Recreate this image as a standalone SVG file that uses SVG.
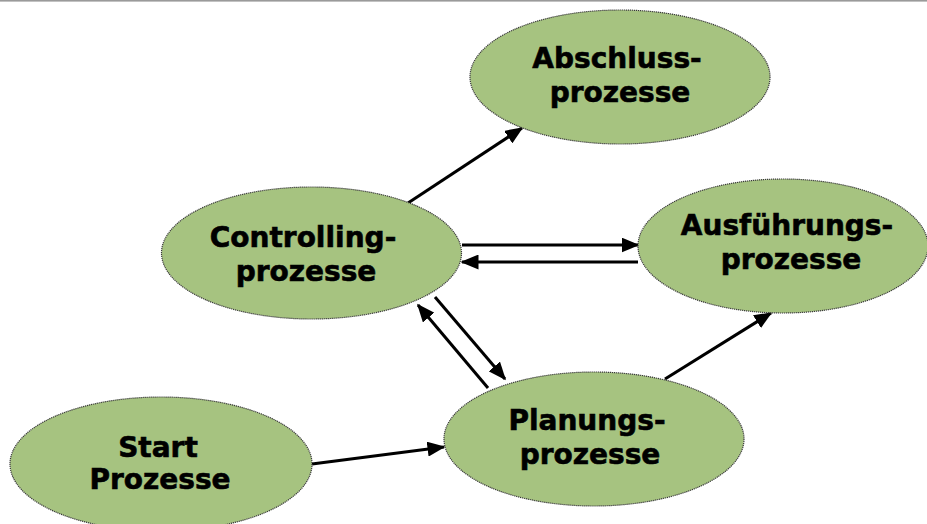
<svg xmlns="http://www.w3.org/2000/svg" width="927" height="524" viewBox="0 0 927 524">
<style>
.node ellipse{fill:#a6c380;stroke:#3a3a3a;stroke-width:1.2;stroke-dasharray:1.2 0.8}
.node text{font-family:"DejaVu Sans","Liberation Sans",sans-serif;font-weight:bold;font-size:28px;fill:#000;stroke:#000;stroke-width:0.6;text-anchor:middle}
.edge{stroke:#000;stroke-width:3;fill:none;marker-end:url(#ah)}
</style>
<defs>
<marker id="ah" markerWidth="6" markerHeight="5" refX="5.5" refY="2.5" orient="auto" markerUnits="strokeWidth">
<path d="M0,0 L6,2.5 L0,5 Z" fill="#000"/>
</marker>
</defs>
<rect x="0" y="0" width="927" height="927" fill="#fff"/>
<rect x="0" y="0" width="927" height="1.6" fill="#9a9a9a"/>
<g id="connectors">
<line class="edge" x1="408" y1="203" x2="522" y2="128"/>
<line class="edge" x1="462" y1="245" x2="638" y2="245"/>
<line class="edge" x1="638" y1="262" x2="462" y2="262"/>
<line class="edge" x1="435" y1="297" x2="505" y2="379"/>
<line class="edge" x1="488" y1="388" x2="418" y2="305"/>
<line class="edge" x1="665" y1="379" x2="771" y2="313"/>
<line class="edge" x1="312" y1="464" x2="444" y2="447"/>
</g>
<g id="abschluss" class="node">
<ellipse cx="620" cy="77" rx="150" ry="67"/>
<text x="617" y="68">Abschluss-</text>
<text x="620" y="102">prozesse</text>
</g>
<g id="controlling" class="node">
<ellipse cx="311.5" cy="253" rx="150" ry="66"/>
<text x="303" y="247">Controlling-</text>
<text x="306" y="281">prozesse</text>
</g>
<g id="ausfuehrung" class="node">
<ellipse cx="783" cy="246" rx="145" ry="67"/>
<text x="787" y="235">Ausführungs-</text>
<text x="791" y="269">prozesse</text>
</g>
<g id="planung" class="node">
<ellipse cx="594" cy="439" rx="150" ry="67"/>
<text x="587" y="430">Planungs-</text>
<text x="590" y="464">prozesse</text>
</g>
<g id="start" class="node">
<ellipse cx="161" cy="464" rx="151" ry="67"/>
<text x="158" y="457">Start</text>
<text x="160" y="489">Prozesse</text>
</g>
</svg>
